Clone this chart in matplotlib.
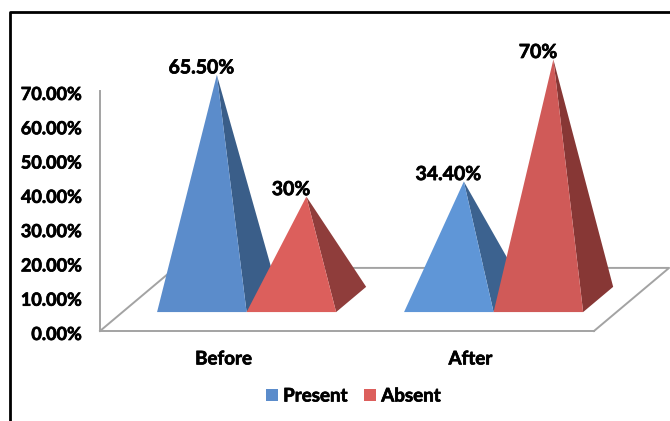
import matplotlib
matplotlib.use('Agg')
import matplotlib.pyplot as plt
import matplotlib.patheffects as pe
from matplotlib.patches import Patch, Polygon
from matplotlib.lines import Line2D
from matplotlib.transforms import ScaledTranslation

plt.rcParams['font.family'] = ['Lato', 'DejaVu Sans']
plt.rcParams['font.weight'] = 'bold'

# Data
categories = ['Before', 'After']
present = [65.5, 34.4]
absent = [30, 70]
present_labels = ['65.50%', '34.40%']
absent_labels = ['30%', '70%']
y_ticks = [0, 10, 20, 30, 40, 50, 60, 70]
y_tick_labels = ['0.00%', '10.00%', '20.00%', '30.00%', '40.00%', '50.00%', '60.00%', '70.00%']

# Colours, one per pyramid: front face and side face
present_front = ['#5B8CCB', '#5F96D7']
present_side = ['#3A5E89', '#3C628F']
absent_front = ['#DC5F5C', '#D05A58']
absent_side = ['#8F3D3B', '#873735']
axis_grey = '#A3A3A3'

# Fake 3D geometry, in axis units
floor_dx = 0.304
floor_dy = 18.4
bar_width = 0.3625
base_front = 0.30   # where the pyramid bases start on the floor depth
base_depth = 0.40

# Text is a bit heavier in the original
heavy = [pe.withStroke(linewidth=0.5, foreground='black')]


def draw_pyramid(ax, left, value, front, side):
    x0 = left
    x1 = left + bar_width
    y0 = base_front * floor_dy
    cx = left + bar_width / 2 + floor_dx * base_depth / 2
    apex = (cx, value + y0 + floor_dy * base_depth / 2)
    corner = (x1 + floor_dx * base_depth, y0 + floor_dy * base_depth)
    ax.add_patch(Polygon([(x1, y0), corner, apex], closed=True, fc=side, ec='none', clip_on=False))
    ax.add_patch(Polygon([(x0, y0), (x1, y0), apex], closed=True, fc=front, ec='none', clip_on=False))
    return apex


fig = plt.figure(figsize=(6.7, 4.21), dpi=100)
ax = fig.add_axes([100 / 670, 90 / 421, 494 / 670, 240 / 421])
ax.set_xlim(-0.5, 1.5)
ax.set_ylim(0, 70)
ax.patch.set_alpha(0)

# Floor
floor_x = [-0.5, -0.5 + floor_dx, 1.5 + floor_dx, 1.5]
floor_y = [0, floor_dy, floor_dy, 0]
ax.plot(floor_x, floor_y, color=axis_grey, lw=1.4, clip_on=False, zorder=0.5)

ax.spines['top'].set_visible(False)
ax.spines['right'].set_visible(False)
ax.spines['left'].set_color(axis_grey)
ax.spines['bottom'].set_color(axis_grey)
ax.spines['left'].set_linewidth(1.4)
ax.spines['bottom'].set_linewidth(1.4)

ax.set_yticks(y_ticks)
ax.set_yticklabels(y_tick_labels, fontsize=13, path_effects=heavy)
ax.set_xticks(range(len(categories)))
ax.set_xticklabels(categories, fontsize=13.5, path_effects=heavy)
ax.tick_params(axis='both', length=0)
ax.tick_params(axis='y', pad=13)
ax.tick_params(axis='x', pad=14)

# y labels sit a touch lower than the ticks
nudge = ScaledTranslation(0, -2 / 100, fig.dpi_scale_trans)
for t in ax.get_yticklabels():
    t.set_transform(t.get_transform() + nudge)

# Pyramids
for i in range(len(categories)):
    left_p = i - 0.269
    left_a = left_p + bar_width
    apex_p = draw_pyramid(ax, left_p, present[i], present_front[i], present_side[i])
    apex_a = draw_pyramid(ax, left_a, absent[i], absent_front[i], absent_side[i])
    ax.annotate(present_labels[i], apex_p, xytext=(-11, 5), textcoords='offset points',
                ha='center', va='center', fontsize=14, annotation_clip=False, path_effects=heavy)
    ax.annotate(absent_labels[i], apex_a, xytext=(-11, 5), textcoords='offset points',
                ha='center', va='center', fontsize=14, annotation_clip=False, path_effects=heavy)

handles = [Patch(fc=present_front[0], label='Present'), Patch(fc=absent_front[0], label='Absent')]
leg = fig.legend(handles=handles, loc='center', bbox_to_anchor=(353.5 / 670, 1 - 396 / 421), ncol=2,
                 frameon=False, fontsize=13.5, handlelength=0.6, handleheight=0.6,
                 handletextpad=0.3, columnspacing=0.9)
for t in leg.get_texts():
    t.set_path_effects(heavy)

# Black frame round the picture, cut off at the right and bottom
fig.add_artist(Line2D([1, 10 / 670, 10 / 670], [1 - 12 / 421, 1 - 12 / 421, 0],
                      color='black', lw=2, transform=fig.transFigure))

fig.savefig('out.png', dpi=100)
